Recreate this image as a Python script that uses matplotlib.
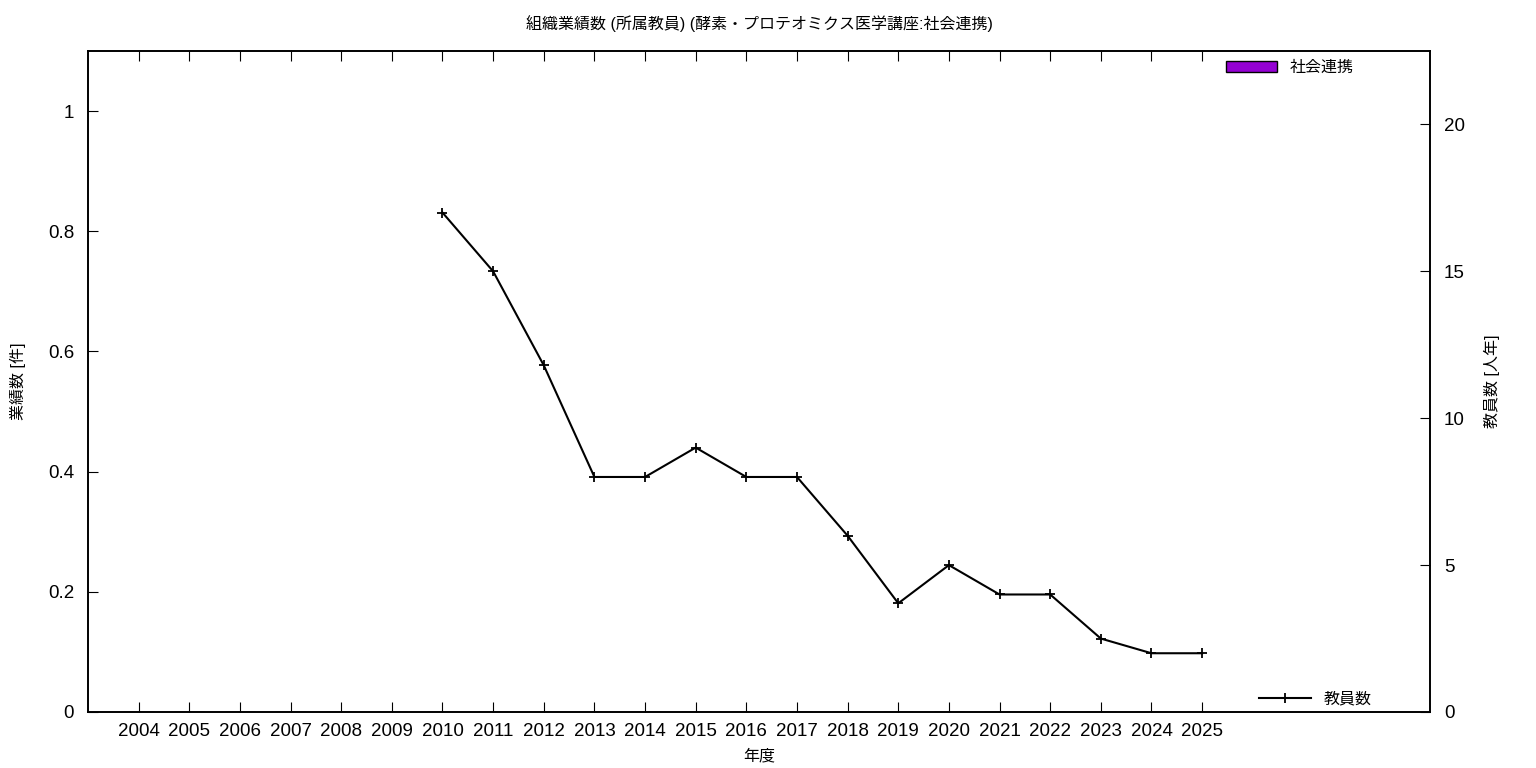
import matplotlib
matplotlib.use("Agg")
import matplotlib.pyplot as plt
import numpy as np

years = [str(y) for y in range(2004, 2026)]
bar_values = [0] * len(years)  # 社会連携
staff_years = years[6:]
staff_values = [17, 15, 11.8, 8, 8, 9, 8, 8, 6, 3.7, 5, 4, 4, 2.5, 2, 2]

plt.rcParams['font.family'] = ['Liberation Sans', 'Noto Sans CJK JP', 'DejaVu Sans']

fig = plt.figure(figsize=(15.36, 7.68), dpi=100)
ax = fig.add_axes([88/1536, 1-712/768, (1430-88)/1536, (712-51)/768])
x = np.arange(len(years))
ax.bar(x, bar_values, width=0.6, color='#9400D3', edgecolor='black', linewidth=1, label='社会連携')
ax.set_xlim(-1, 25.5)
ax.set_ylim(0, 1.1)
ax.set_yticks([0, 0.2, 0.4, 0.6, 0.8, 1.0])
ax.set_yticklabels(['0', '0.2', '0.4', '0.6', '0.8', '1'])
ax.set_xticks(x)
ax.set_xticklabels(years)
ax.tick_params(axis='x', direction='in', length=7, top=True, labelsize=13.5, pad=8)
ax.tick_params(axis='y', direction='in', length=7, labelsize=13.5, pad=10)
ax.set_xlabel('年度', fontsize=11.5, labelpad=6)
ax.set_ylabel('業績数 [件]', fontsize=11.5, labelpad=16)
ax.set_title('組織業績数 (所属教員) (酵素・プロテオミクス医学講座:社会連携)', fontsize=11.5, pad=16)

ax2 = ax.twinx()
sx = [years.index(y) for y in staff_years]
ax2.plot(sx, staff_values, color='black', linewidth=1.5, marker='+', markersize=7, markeredgewidth=1.3, label='教員数')
ax2.set_ylim(0, 22.5)
ax2.set_yticks([0, 5, 10, 15, 20])
ax2.tick_params(axis='y', direction='in', length=7, labelsize=13.5, pad=10)
ax2.set_ylabel('教員数 [人年]', fontsize=11.5, labelpad=14)

for a in (ax, ax2):
    for s in a.spines.values():
        s.set_linewidth(1.2)

ax.legend(loc='upper right', bbox_to_anchor=(0.954, 1.008), frameon=False, fontsize=11.5,
          handlelength=3.2, handleheight=0.6)
ax2.legend(loc='lower right', bbox_to_anchor=(0.967, -0.013), frameon=False, fontsize=11.5,
           handlelength=3.2)

fig.savefig('out.png', dpi=100)
